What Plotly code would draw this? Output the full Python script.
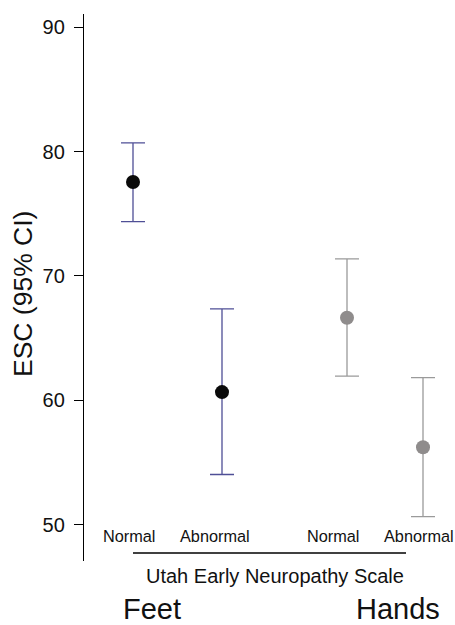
import plotly.graph_objects as go

# Data
groups = ["Feet", "Feet", "Hands", "Hands"]
categories = ["Normal", "Abnormal", "Normal", "Abnormal"]
esc_mean = [77.55, 60.67, 66.65, 56.24]
ci_upper = [80.7, 67.35, 71.37, 61.83]
ci_lower = [74.37, 54.05, 61.96, 50.67]
y_ticks = [50, 60, 70, 80, 90]

# Layout helpers (x positions in axis units)
x_pos = [49, 138, 263, 339]
label_x = [45, 131, 249, 335]
err_colors = ["#4f4f96", "#4f4f96", "#9a9a9a", "#9a9a9a"]
marker_colors = ["#0a0a0a", "#0a0a0a", "#8f8c8c", "#8f8c8c"]

font_family = "Liberation Sans, Arial, Helvetica, sans-serif"

L, T, B, W, H = 84, 14, 561, 455, 625
PH = B - T


def py(p):
    return (B - p) / PH


fig = go.Figure()
for i in range(len(esc_mean)):
    fig.add_trace(go.Scatter(
        x=[x_pos[i]], y=[esc_mean[i]], mode="markers",
        marker=dict(size=14, color=marker_colors[i], line=dict(width=0)),
        error_y=dict(type="data", symmetric=False,
                     array=[ci_upper[i] - esc_mean[i]],
                     arrayminus=[esc_mean[i] - ci_lower[i]],
                     color=err_colors[i], thickness=1.3, width=12),
        showlegend=False, cliponaxis=False,
    ))

annotations = []
for i, c in enumerate(categories):
    annotations.append(dict(x=label_x[i], y=py(536), xref="x", yref="paper",
                            text=c, showarrow=False, xanchor="center", yanchor="middle",
                            font=dict(size=16.3, color="#111", family=font_family)))
annotations.append(dict(x=191, y=py(576), xref="x", yref="paper",
                        text="Utah Early Neuropathy Scale", showarrow=False,
                        xanchor="center", yanchor="middle",
                        font=dict(size=20, color="#111", family=font_family)))
annotations.append(dict(x=68, y=py(609), xref="x", yref="paper",
                        text=groups[0], showarrow=False, xanchor="center", yanchor="middle",
                        font=dict(size=29, color="#111", family=font_family)))
annotations.append(dict(x=314, y=py(609), xref="x", yref="paper",
                        text=groups[2], showarrow=False, xanchor="center", yanchor="middle",
                        font=dict(size=29, color="#111", family=font_family)))
annotations.append(dict(x=(23 - L) / (W - L), y=py(294), xref="paper", yref="paper",
                        text="ESC (95% CI)", textangle=-90, showarrow=False,
                        xanchor="center", yanchor="middle",
                        font=dict(size=26.5, color="#111", family=font_family)))

fig.update_layout(
    width=W, height=H,
    margin=dict(l=L, r=0, t=T, b=H - B, pad=0, autoexpand=False),
    plot_bgcolor="white", paper_bgcolor="white",
    xaxis=dict(range=[0, W - L], visible=False, fixedrange=True, automargin=False),
    yaxis=dict(range=[47.1, 91.05], tickvals=y_ticks, showline=True, linecolor="black",
               linewidth=1.3, ticks="outside", ticklen=9, tickwidth=1.3, tickcolor="black",
               showgrid=False, zeroline=False, automargin=False, ticklabelstandoff=5,
               tickfont=dict(size=20, color="#111", family=font_family)),
    annotations=annotations,
    shapes=[dict(type="line", xref="x", yref="paper", x0=49, x1=322,
                 y0=py(553), y1=py(553),
                 line=dict(color="black", width=1.3))],
)

fig.write_html("out.html", config={"displayModeBar": False},
               post_script="document.body.style.margin='0';document.body.style.padding='0';")
